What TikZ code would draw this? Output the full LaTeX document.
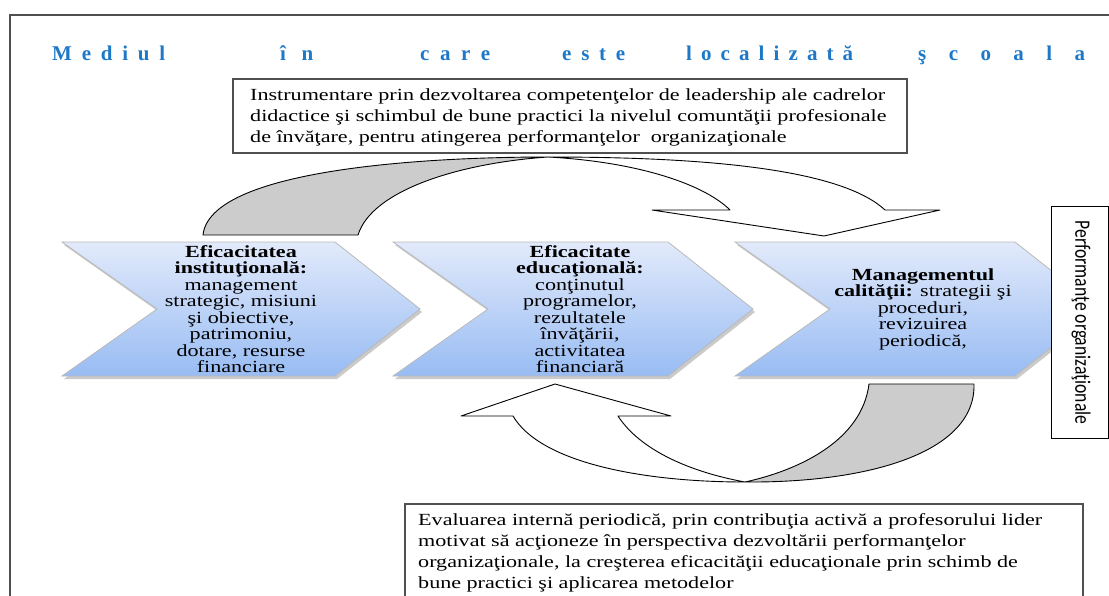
\documentclass[tikz,border=0pt]{standalone}
\usepackage{fontspec}
\setmainfont{Liberation Serif}
\newfontfamily\bodyfont[FakeStretch=1.3]{Liberation Serif}
\newfontfamily\perffont[FakeStretch=0.8]{Carlito}
\usetikzlibrary{shadows}
\definecolor{titleblue}{RGB}{30,120,200}
\definecolor{chevtop}{RGB}{226,234,251}
\definecolor{chevbot}{RGB}{152,188,243}
\definecolor{framegray}{RGB}{80,80,80}
\definecolor{ribbongray}{RGB}{204,204,204}
\newcommand{\spreadword}[2]{\makebox[#1][s]{#2}}
\begin{document}
\begin{tikzpicture}[x=1pt,y=-1pt,
  titletxt/.style={text=titleblue, font=\bfseries\fontsize{21}{23}\selectfont, anchor=base west, inner sep=0},
  bodytxt/.style={font=\bodyfont\fontsize{17}{21}\selectfont, inner sep=0, align=left, anchor=north west},
  chevtxt/.style={font=\bodyfont\fontsize{17}{16.5}\selectfont, inner sep=0, align=center},
  chev/.style={draw=gray!55, line width=0.8pt, top color=chevtop, bottom color=chevbot,
    drop shadow={shadow xshift=2pt, shadow yshift=-3pt, opacity=0.35, fill=black!60}},
  ribbon/.style={draw=black, line width=0.9pt, line join=round},
  boxline/.style={draw=framegray, line width=1.6pt}
]
\useasboundingbox (0,0) rectangle (1109,595);
% outer frame
\draw[boxline, line width=2pt] (10,600) -- (10,15) -- (1115,15);

% title
\node[titletxt] (w1) at (52,60) {\spreadword{113pt}{M\hfill e\hfill d\hfill i\hfill u\hfill l}};
\node[titletxt] (w2) at (280,60) {\spreadword{33pt}{î\hfill n}};
\node[titletxt] (w3) at (420,60) {\spreadword{70pt}{c\hfill a\hfill r\hfill e}};
\node[titletxt] (w4) at (562,60) {\spreadword{63pt}{e\hfill s\hfill t\hfill e}};
\node[titletxt] (w5) at (686,60) {\spreadword{167pt}{l\hfill o\hfill c\hfill a\hfill l\hfill i\hfill z\hfill a\hfill t\hfill ă}};
\node[titletxt] (w6) at (918,60) {\spreadword{167pt}{ş\hfill c\hfill o\hfill a\hfill l\hfill a}};

% top box
\node[boxline, fill=white, anchor=north west, minimum width=674pt, minimum height=74pt, inner sep=0] (topbox) at (232,78) {};
\node[bodytxt] (toptext) at (250,88) {Instrumentare prin dezvoltarea competenţelor de leadership ale cadrelor\\
didactice şi schimbul de bune practici la nivelul comuntăţii profesionale\\
de învăţare, pentru atingerea performanţelor\ \ organizaţionale};

% top ribbon arrow
\coordinate (J) at (548,157);
\path[ribbon, fill=ribbongray] (203,235) .. controls (210,170) and (420,157) .. (J)
  .. controls (460,163) and (372,190) .. (358,235) -- cycle;
\path[ribbon, fill=white] (J) .. controls (700,157) and (840,168) .. (885,210)
  -- (940,210) -- (824,236) -- (652,210) -- (730,210)
  .. controls (705,185) and (640,162) .. (J) -- cycle;

% bottom ribbon arrow
\coordinate (K) at (745,482);
\path[ribbon, fill=ribbongray] (869,384) -- (974,384) .. controls (976,452) and (870,483) .. (K)
  .. controls (800,470) and (862,440) .. (869,384) -- cycle;
\path[ribbon, fill=white] (K) .. controls (640,482) and (540,462) .. (513,416)
  -- (461,416) -- (555,384) -- (671,416) -- (618,416)
  .. controls (640,450) and (690,472) .. (K) -- cycle;

% chevrons
\path[chev] (62,242) -- (335,242) -- (420,309) -- (335,376) -- (62,376) -- (157,309) -- cycle;
\path[chev] (393,242) -- (668,242) -- (753,309) -- (668,376) -- (393,376) -- (488,309) -- cycle;
\path[chev] (735,242) -- (1015,242) -- (1100,309) -- (1015,376) -- (735,376) -- (830,309) -- cycle;

\node[chevtxt] (c1) at (241,309) {\textbf{Eficacitatea}\\ \textbf{instituţională:}\\ management\\ strategic, misiuni\\ şi obiective,\\ patrimoniu,\\ dotare, resurse\\ financiare};
\node[chevtxt] (c2) at (580,309) {\textbf{Eficacitate}\\ \textbf{educaţională:}\\ conţinutul\\ programelor,\\ rezultatele\\ învăţării,\\ activitatea\\ financiară};
\node[chevtxt] (c3) at (923,309) {\textbf{Managementul}\\ \textbf{calităţii:} strategii şi\\ proceduri,\\ revizuirea\\ periodică,};

% performance box
\node[draw=black, line width=1pt, fill=white, anchor=north west, minimum width=57pt, minimum height=232pt, inner sep=0] (perf) at (1051,206) {};
\node[rotate=-90, font=\perffont\fontsize{22}{24}\selectfont, inner sep=0] (perftext) at ([xshift=1pt]perf.center) {Performanţe organizaţionale};

% bottom box
\draw[boxline] (405,600) -- (405,504) -- (1083,504) -- (1083,600);
\node[bodytxt] (bottext) at (418,513) {Evaluarea internă periodică, prin contribuţia activă a profesorului lider\\
motivat să acţioneze în perspectiva dezvoltării performanţelor\\
organizaţionale, la creşterea eficacităţii educaţionale prin schimb de\\
bune practici şi aplicarea metodelor};
\end{tikzpicture}
\end{document}
